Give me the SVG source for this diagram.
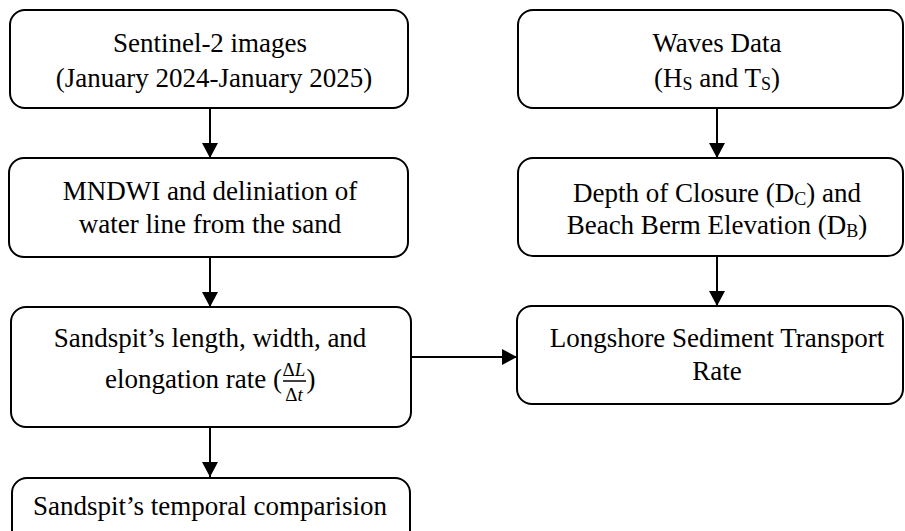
<svg xmlns="http://www.w3.org/2000/svg" width="905" height="531" viewBox="0 0 905 531">
<defs>
<marker id="ah" markerWidth="16" markerHeight="16" viewBox="0 0 16 16" refX="15" refY="8" orient="auto" markerUnits="userSpaceOnUse">
<path d="M0,0 L15,8 L0,16 Z" fill="#000"/>
</marker>
<style>
.box{fill:#fff;stroke:#000;stroke-width:2}
text{font-family:Liberation Serif,Times New Roman,serif}
.t{font-size:27px;fill:#000;text-anchor:middle}
.sub{font-size:18px}
.m{font-size:19px;fill:#000;text-anchor:middle}
.c{stroke:#000;stroke-width:2;fill:none;marker-end:url(#ah)}
</style>
</defs>
<rect width="905" height="531" fill="#fff"/>
<g id="connectors">
<line class="c" x1="210" y1="108" x2="210" y2="158"/>
<line class="c" x1="210" y1="257" x2="210" y2="307"/>
<line class="c" x1="210" y1="427" x2="210" y2="477"/>
<line class="c" x1="717" y1="108" x2="717" y2="158"/>
<line class="c" x1="717" y1="256" x2="717" y2="306"/>
<line class="c" x1="411" y1="357" x2="517" y2="357"/>
</g>
<g id="n1">
<rect class="box" x="10" y="10" width="398" height="98" rx="15"/>
<text class="t" font-family="Liberation Serif" x="210" y="52">Sentinel-2 images</text>
<text class="t" font-family="Liberation Serif" x="214" y="87">(January 2024-January 2025)</text>
</g>
<g id="n2">
<rect class="box" x="9" y="158" width="399" height="99" rx="15"/>
<text class="t" font-family="Liberation Serif" x="210" y="200">MNDWI and deliniation of</text>
<text class="t" font-family="Liberation Serif" x="210" y="233">water line from the sand</text>
</g>
<g id="n3">
<rect class="box" x="11" y="307" width="400" height="120" rx="15"/>
<text class="t" font-family="Liberation Serif" x="210" y="347">Sandspit’s length, width, and</text>
<text class="t" font-family="Liberation Serif" x="282" y="388" style="text-anchor:end">elongation rate (</text>
<text class="t" font-family="Liberation Serif" x="311" y="388">)</text>
<text class="m" font-family="Liberation Serif" x="294" y="376">Δ<tspan font-style="italic">L</tspan></text>
<line x1="283" y1="381" x2="306" y2="381" stroke="#000" stroke-width="1.5"/>
<text class="m" font-family="Liberation Serif" x="294" y="401">Δ<tspan font-style="italic">t</tspan></text>
</g>
<g id="n4">
<rect class="box" x="12" y="478" width="398" height="70" rx="15"/>
<text class="t" font-family="Liberation Serif" x="210" y="515">Sandspit’s temporal comparision</text>
</g>
<g id="r1">
<rect class="box" x="518" y="10" width="385" height="98" rx="15"/>
<text class="t" font-family="Liberation Serif" x="717" y="52">Waves Data</text>
<text class="t" font-family="Liberation Serif" x="717" y="87">(H<tspan class="sub" dy="3">S</tspan><tspan dy="-3"> and T</tspan><tspan class="sub" dy="3">S</tspan><tspan dy="-3">)</tspan></text>
</g>
<g id="r2">
<rect class="box" x="518" y="158" width="385" height="98" rx="15"/>
<text class="t" font-family="Liberation Serif" x="717" y="202">Depth of Closure (D<tspan class="sub" dy="3">C</tspan><tspan dy="-3">) and</tspan></text>
<text class="t" font-family="Liberation Serif" x="717" y="234">Beach Berm Elevation (D<tspan class="sub" dy="3">B</tspan><tspan dy="-3">)</tspan></text>
</g>
<g id="r3">
<rect class="box" x="517" y="306" width="386" height="98" rx="15"/>
<text class="t" font-family="Liberation Serif" x="717" y="347">Longshore Sediment Transport</text>
<text class="t" font-family="Liberation Serif" x="717" y="380">Rate</text>
</g>
</svg>
